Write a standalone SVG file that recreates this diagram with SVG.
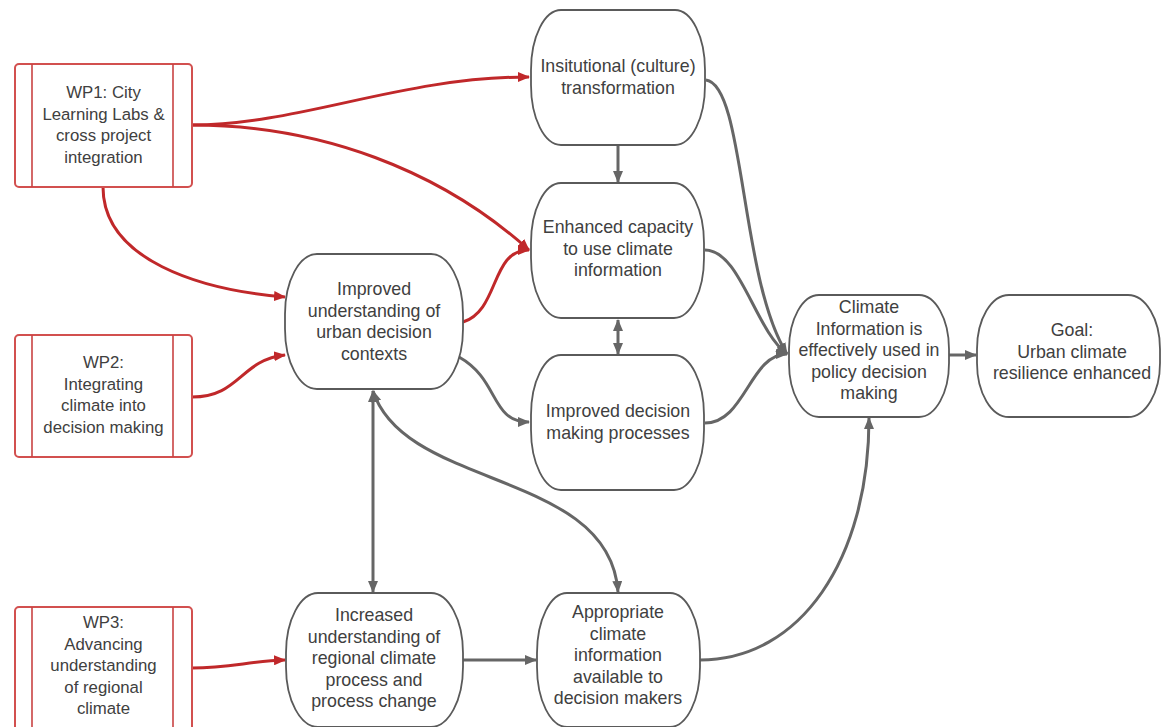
<svg xmlns="http://www.w3.org/2000/svg" width="1161" height="727" viewBox="0 0 1161 727">
<style>
  .wp { fill: #ffffff; stroke: #d2504f; stroke-width: 2; }
  .wpl { stroke: #c94343; stroke-width: 1.6; }
  .node { fill: #ffffff; stroke: #5a5a5a; stroke-width: 1.8; }
  text { font-family: "Liberation Sans", Arial, sans-serif; font-size: 17.8px; fill: #404040; text-anchor: middle; }
  .wpt { font-size: 16.8px; }
  .red { fill: none; stroke: #c0282a; stroke-width: 3; marker-end: url(#ar); }
  .gray { fill: none; stroke: #666666; stroke-width: 3; marker-end: url(#ag); }
  .dbl { marker-start: url(#ag); }
</style>
<defs>
  <marker id="ar" markerUnits="userSpaceOnUse" markerWidth="12" markerHeight="10" refX="11" refY="5" orient="auto-start-reverse">
    <path d="M0,0 L12,5 L0,10 z" fill="#c0282a"/>
  </marker>
  <marker id="ag" markerUnits="userSpaceOnUse" markerWidth="12" markerHeight="10" refX="11" refY="5" orient="auto-start-reverse">
    <path d="M0,0 L12,5 L0,10 z" fill="#666666"/>
  </marker>
</defs>
<rect width="1161" height="727" fill="#ffffff"/>

<g id="connectors">
  <path class="red" d="M192,125 C300,125 400,77 529,77"/>
  <path class="red" d="M192,125 C320,125 440,170 529,250"/>
  <path class="red" d="M103,187 C103,260 200,290 285,297"/>
  <path class="red" d="M192,397 C240,397 240,360 285,355"/>
  <path class="red" d="M192,668 C230,668 250,661 285,660"/>
  <path class="red" d="M463,322 C500,310 490,250 529,250"/>
  <path class="gray" d="M618,145 L618,182"/>
  <path class="gray dbl" d="M618,320 L618,354"/>
  <path class="gray" d="M459,357 C500,380 490,422 529,422"/>
  <path class="gray dbl" d="M373,391 L373,592"/>
  <path class="gray dbl" d="M373,391 C405,490 610,470 618,592"/>
  <path class="gray" d="M706,80 C745,85 740,280 787,354"/>
  <path class="gray" d="M705,250 C740,250 755,330 787,354"/>
  <path class="gray" d="M705,423 C745,423 750,354 787,354"/>
  <path class="gray" d="M463,660 L536,660"/>
  <path class="gray" d="M700,660 C800,660 869,560 869,418"/>
  <path class="gray" d="M949,355 L976,355"/>
</g>

<g id="wp1">
  <rect class="wp" x="15" y="64" width="177" height="123" rx="4"/>
  <line class="wpl" x1="32" y1="64" x2="32" y2="187"/>
  <line class="wpl" x1="173" y1="64" x2="173" y2="187"/>
  <text class="wpt" x="103.5" y="98">WP1: City<tspan x="103.5" dy="21.5">Learning Labs &amp;</tspan><tspan x="103.5" dy="21.5">cross project</tspan><tspan x="103.5" dy="21.5">integration</tspan></text>
</g>
<g id="wp2">
  <rect class="wp" x="15" y="335" width="177" height="122" rx="4"/>
  <line class="wpl" x1="32" y1="335" x2="32" y2="457"/>
  <line class="wpl" x1="173" y1="335" x2="173" y2="457"/>
  <text class="wpt" x="103.5" y="368">WP2:<tspan x="103.5" dy="21.5">Integrating</tspan><tspan x="103.5" dy="21.5">climate into</tspan><tspan x="103.5" dy="21.5">decision making</tspan></text>
</g>
<g id="wp3">
  <rect class="wp" x="15" y="607" width="177" height="124" rx="4"/>
  <line class="wpl" x1="32" y1="607" x2="32" y2="731"/>
  <line class="wpl" x1="173" y1="607" x2="173" y2="731"/>
  <text class="wpt" x="103.5" y="628">WP3:<tspan x="103.5" dy="21.5">Advancing</tspan><tspan x="103.5" dy="21.5">understanding</tspan><tspan x="103.5" dy="21.5">of regional</tspan><tspan x="103.5" dy="21.5">climate</tspan></text>
</g>

<g id="urban-contexts">
  <rect class="node" x="285" y="254" width="178" height="135" rx="32" ry="60"/>
  <text x="374" y="295">Improved<tspan x="374" dy="21.5">understanding of</tspan><tspan x="374" dy="21.5">urban decision</tspan><tspan x="374" dy="21.5">contexts</tspan></text>
</g>
<g id="institutional">
  <rect class="node" x="531" y="10" width="174" height="135" rx="30" ry="60"/>
  <text x="618" y="72">Insitutional (culture)<tspan x="618" dy="21.5">transformation</tspan></text>
</g>
<g id="capacity">
  <rect class="node" x="531" y="183" width="173" height="135" rx="30" ry="60"/>
  <text x="618" y="233">Enhanced capacity<tspan x="618" dy="21.5">to use climate</tspan><tspan x="618" dy="21.5">information</tspan></text>
</g>
<g id="processes">
  <rect class="node" x="531" y="355" width="173" height="135" rx="30" ry="60"/>
  <text x="618" y="417">Improved decision<tspan x="618" dy="21.5">making processes</tspan></text>
</g>
<g id="climate-info-used">
  <rect class="node" x="789" y="295" width="160" height="122" rx="30" ry="54"/>
  <text x="869" y="313">Climate<tspan x="869" dy="21.5">Information is</tspan><tspan x="869" dy="21.5">effectively used in</tspan><tspan x="869" dy="21.5">policy decision</tspan><tspan x="869" dy="21.5">making</tspan></text>
</g>
<g id="goal">
  <rect class="node" x="977" y="295" width="183" height="122" rx="32" ry="54"/>
  <text x="1072" y="336">Goal:<tspan x="1072" dy="21.5">Urban climate</tspan><tspan x="1072" dy="21.5">resilience enhanced</tspan></text>
</g>
<g id="regional-understanding">
  <rect class="node" x="286" y="593" width="177" height="134" rx="32" ry="60"/>
  <text x="374" y="621">Increased<tspan x="374" dy="21.5">understanding of</tspan><tspan x="374" dy="21.5">regional climate</tspan><tspan x="374" dy="21.5">process and</tspan><tspan x="374" dy="21.5">process change</tspan></text>
</g>
<g id="appropriate-info">
  <rect class="node" x="537" y="593" width="163" height="134" rx="30" ry="60"/>
  <text x="618" y="618">Appropriate<tspan x="618" dy="21.5">climate</tspan><tspan x="618" dy="21.5">information</tspan><tspan x="618" dy="21.5">available to</tspan><tspan x="618" dy="21.5">decision makers</tspan></text>
</g>
</svg>
